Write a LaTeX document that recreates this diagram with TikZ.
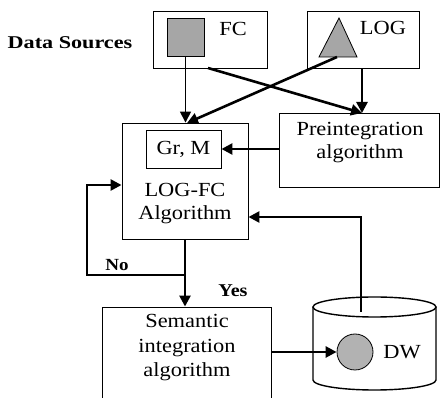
\documentclass[tikz,border=0pt]{standalone}
\usepackage{fontspec}
\setmainfont{Liberation Serif}[FakeStretch=1.12]
\usetikzlibrary{arrows.meta}
\begin{document}
\begin{tikzpicture}[x=1pt,y=-1pt,
  box/.style={draw,line width=0.9pt,fill=white,inner sep=0pt},
  txt/.style={font=\fontsize{20}{23}\selectfont,align=center,inner sep=0pt},
  lbl/.style={font=\fontsize{17}{18}\selectfont\bfseries,inner sep=0pt},
  arr/.style={line width=2.6pt,-{Triangle[length=11pt,width=11pt]}},
  shade/.style={fill=black!35,draw,line width=0.8pt}]
\useasboundingbox (0,0) rectangle (440,398);
\clip (0,0) rectangle (440,398);

% data sources
\node[lbl,font=\fontsize{18}{20}\selectfont\bfseries] (ds) at (70,43) {\scalebox{1.1}[1]{Data Sources}};
\node[box,minimum width=114pt,minimum height=57pt] (fc) at (210,39.5) {};
\node[shade,minimum width=37pt,minimum height=38pt,inner sep=0pt] (fcsq) at (185.5,37) {};
\node[txt] (fct) at (233,29) {FC};

\node[box,minimum width=112pt,minimum height=57pt] (log) at (363,39.5) {};
\coordinate (triA) at (339,18);
\coordinate (triL) at (319,57);
\coordinate (triR) at (357,57);
\coordinate (triB) at (337,57);
\filldraw[fill=black!35,line width=0.8pt] (triA) -- (triL) -- (triR) -- cycle;
\node[txt] (logt) at (383,28) {LOG};

% processing boxes
\node[box,minimum width=126pt,minimum height=116pt] (lf) at (185,181) {};
\node[box,minimum width=75pt,minimum height=38pt] (grm) at (183.5,149)
  {\fontsize{20}{22}\selectfont Gr, M};
\node[txt] (lft) at (185,204) {LOG-FC\\Algorithm};

\node[box,minimum width=160pt,minimum height=74pt] (pre) at (359,150) {};
\node[txt] (pret) at (360,143) {Preintegration\\algorithm};

\node[box,minimum width=169pt,minimum height=100pt] (sem) at (186.5,357) {};
\node[txt,font=\fontsize{20}{24.5}\selectfont] (semt) at (187,348)
  {Semantic\\integration\\algorithm};

% data warehouse cylinder
\coordinate (cylTL) at (313,307);
\coordinate (cylBL) at (313,380);
\coordinate (cylTR) at (436,307);
\coordinate (cylTop) at (361,312);
\draw[line width=1.4pt,fill=white] (cylTL) -- (cylBL)
  arc[start angle=180,end angle=360,x radius=61.5pt,y radius=10pt] -- (cylTR);
\draw[line width=1.4pt] (374.5,307) ellipse[x radius=61.5pt,y radius=10pt];
\node[draw,circle,fill=black!30,line width=0.8pt,minimum size=36pt,inner sep=0pt] (dw) at (355,352) {};
\node[txt] (dwt) at (402,352) {DW};

% connectors
\draw[arr,line width=1.5pt] (fcsq.south) -- (fcsq.south |- lf.north);
\coordinate (fcout) at (208,68);
\coordinate (prein) at (362,113);
\draw[arr] (fcout) -- (prein);
\draw[arr] (triB) -- (187,123);
\draw[arr] (log.south -| prein) -- (prein);
\draw[arr] (pre.west |- grm.east) -- (grm.east);
\draw[arr] (lf.south) -- (sem.north -| lf.south);
\coordinate (nob) at (185,275);
\coordinate (nol) at (87,275);
\coordinate (nou) at (87,185);
\draw[arr] (nob) -- (nol) -- (nou) -- (lf.west |- nou);
\coordinate (dwu) at (361,217);
\draw[arr] (cylTop) -- (dwu) -- (lf.east |- dwu);
\draw[arr] (sem.east |- dw.west) -- (dw.west);

% decision labels
\node[lbl] (no) at (117,265) {No};
\node[lbl,font=\fontsize{18}{20}\selectfont\bfseries] (yes) at (233,291) {Yes};
\end{tikzpicture}
\end{document}
